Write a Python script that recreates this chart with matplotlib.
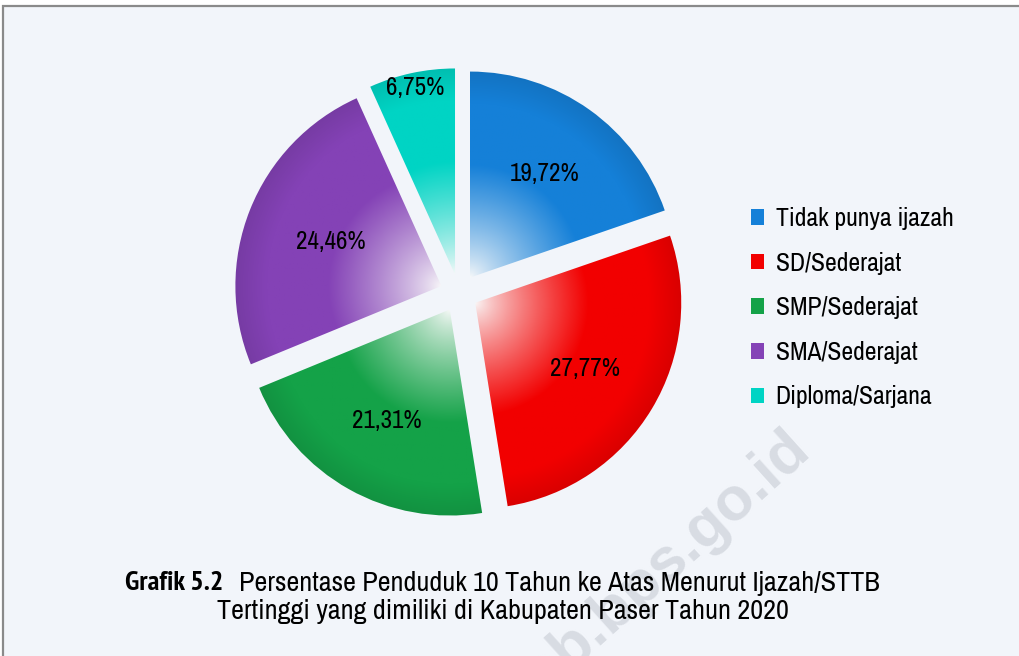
import numpy as np
import matplotlib; matplotlib.use("Agg")
import matplotlib.pyplot as plt
from matplotlib import font_manager
from matplotlib.font_manager import FontProperties
from matplotlib.patches import Patch, Rectangle
from matplotlib.colors import to_rgb

# the original uses a narrow sans (Arial Narrow); take a condensed face if one is installed
cands = [f for f in font_manager.fontManager.ttflist
         if "narrow" in (f.name + f.fname).lower() or "condensed" in (f.name + f.fname).lower()]
cands.sort(key=lambda f: ("narrow" not in (f.name + f.fname).lower(), "oblique" in f.fname.lower() or "italic" in f.fname.lower()))
reg = [f for f in cands if f.weight in (400, "normal", "regular") and f.style == "normal"]
bold = [f for f in cands if f.weight in (700, "bold") and f.style == "normal"]
if reg:
    FP = FontProperties(fname=reg[0].fname)
    FPB = FontProperties(fname=bold[0].fname) if bold else FontProperties(fname=reg[0].fname, weight="bold")
    SC = 1.0
else:
    FP = FontProperties(family=["Liberation Sans", "DejaVu Sans"])
    FPB = FontProperties(family=["Liberation Sans", "DejaVu Sans"], weight="bold")
    SC = 0.85

def fp(size, b=False):
    p = (FPB if b else FP).copy(); p.set_size(size * SC); return p

# data
labels = ["Tidak punya ijazah", "SD/Sederajat", "SMP/Sederajat", "SMA/Sederajat", "Diploma/Sarjana"]
values = [19.72, 27.77, 21.31, 24.46, 6.75]
colors = ["#1580D8", "#F20000", "#14A248", "#8442B6", "#00D4C4"]
label_r = [0.62, 0.62, 0.62, 0.58, 0.93]

W, H = 1020, 656
BG = "#F2F5FA"
fig = plt.figure(figsize=(W / 100, H / 100), dpi=100)
fig.patch.set_facecolor("white")

# frame
base = fig.add_axes([0, 0, 1, 1]); base.set_xlim(0, W); base.set_ylim(H, 0); base.axis("off")
base.add_patch(Rectangle((3, 6), W + 10, H, facecolor=BG, edgecolor="#8a8a8a", lw=1.6))

# watermark (runs off the bottom edge, as in the original)
base.text(812, 452, "paserkab.bps.go.id", rotation=42, rotation_mode="anchor", fontsize=44,
          fontweight="bold", color="#D8DCE3", ha="right", va="baseline",
          family=["Liberation Sans", "DejaVu Sans"])

# pie axes: center (459,293) px, radius 206 px
cx, cy, R, side = 459, 293, 206, 600
ax = fig.add_axes([(cx - side / 2) / W, (H - cy - side / 2) / H, side / W, side / H])
explode = [0.092] * len(values)
wedges, _ = ax.pie(values, radius=1, startangle=90, counterclock=False, explode=explode)
L = side / 2 / R
ax.set_xlim(-L, L); ax.set_ylim(-L, L); ax.set_aspect("equal"); ax.axis("off")

n = 500
gx, gy = np.meshgrid(np.linspace(-1.3, 1.3, n), np.linspace(-1.3, 1.3, n))
for i, (w, col, ex) in enumerate(zip(wedges, colors, explode)):
    w.set_facecolor("none"); w.set_edgecolor("none")
    mid = np.deg2rad((w.theta1 + w.theta2) / 2)
    ox, oy = ex * np.cos(mid), ex * np.sin(mid)
    r = np.hypot(gx - ox, gy - oy)
    # light near the tip, saturated outward, slight darkening along the rim
    t = np.clip(r / 0.55, 0, 1) ** 0.8
    c = np.array(to_rgb(col))
    img = (1 - t[..., None]) * np.ones(3) * 0.98 + t[..., None] * c
    shade = 1 - 0.10 * np.clip((r - 0.85) / 0.15, 0, 1)
    img = np.clip(img * shade[..., None], 0, 1)
    im = ax.imshow(img, extent=(-1.3, 1.3, -1.3, 1.3), origin="lower", zorder=1)
    im.set_clip_path(w)
    ax.text(ox + label_r[i] * np.cos(mid), oy + label_r[i] * np.sin(mid),
            f"{values[i]:.2f}%".replace(".", ","),
            ha="center", va="center", fontproperties=fp(18), zorder=3)

# legend
handles = [Patch(facecolor=c, edgecolor="none") for c in colors]
fig.legend(handles, labels, loc="upper left", bbox_to_anchor=(728 / W, 1 - 184 / H),
           frameon=False, prop=fp(18.5), handlelength=0.5, handleheight=0.55,
           handletextpad=0.45, labelspacing=(0.84 if reg else 1.0))

# caption
base.text(125, 583, "Grafik 5.2", fontproperties=fp(20.3, True), va="center", ha="left")
base.text(880, 583, "Persentase Penduduk 10 Tahun ke Atas Menurut Ijazah/STTB",
          fontproperties=fp(20.3), va="center", ha="right")
base.text(503, 611, "Tertinggi yang dimiliki di Kabupaten Paser Tahun 2020",
          fontproperties=fp(20.3), va="center", ha="center")

fig.savefig("out.png", dpi=100, facecolor=fig.get_facecolor())
